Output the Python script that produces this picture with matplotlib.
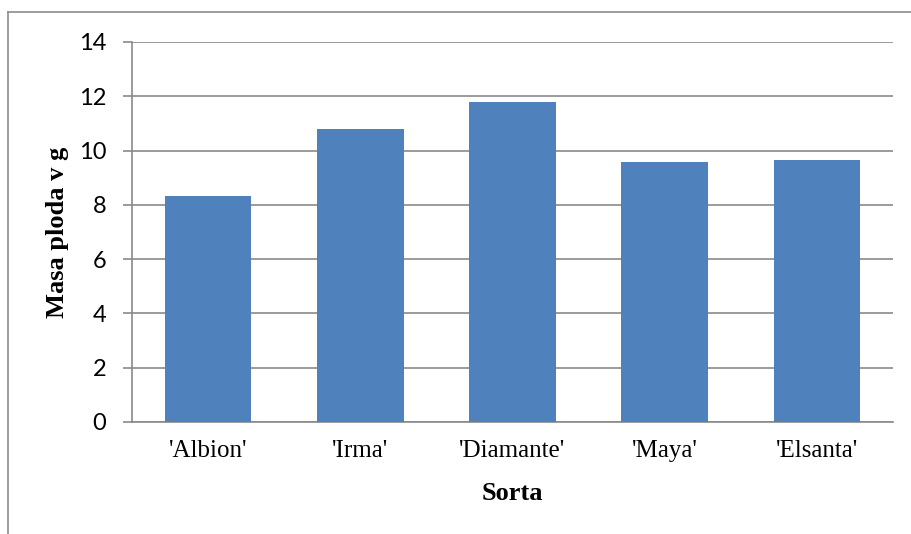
import numpy as np
import matplotlib
matplotlib.use('Agg')
import matplotlib.pyplot as plt
from matplotlib.lines import Line2D

sorte = ["'Albion'", "'Irma'", "'Diamante'", "'Maya'", "'Elsanta'"]
masa = [8.31, 10.8, 11.8, 9.57, 9.65]
y_ticks = [0, 2, 4, 6, 8, 10, 12, 14]

W, H = 912, 534
fig = plt.figure(figsize=(W / 100, H / 100), dpi=100)
fig.patch.set_facecolor('white')

# outer chart frame (top and left edges visible)
frame_col = '#8c8c8c'
fig.add_artist(Line2D([8 / W, 1.0], [1 - 12 / H, 1 - 12 / H], transform=fig.transFigure,
                      color=frame_col, lw=1.2))
fig.add_artist(Line2D([8 / W, 8 / W], [0.0, 1 - 12 / H], transform=fig.transFigure,
                      color=frame_col, lw=1.2))

ax = fig.add_axes([132 / W, 1 - 422 / H, (893 - 132) / W, (422 - 42) / H])
x = np.arange(len(sorte))
ax.bar(x, masa, width=0.57, color='#4F81BD', zorder=3)

ax.set_xlim(-0.5, len(sorte) - 0.5)
ax.set_ylim(0, 14)
ax.set_yticks(y_ticks)
ax.set_yticklabels([str(t) for t in y_ticks], family='Lato', fontsize=17)
ax.set_xticks(x)
ax.set_xticklabels(sorte, family='Liberation Serif', fontsize=18)

grid_col = '#8a8a8a'
ax.grid(axis='y', color=grid_col, lw=1.2, zorder=0)
for s in ['top', 'right']:
    ax.spines[s].set_visible(False)
for s in ['left', 'bottom']:
    ax.spines[s].set_color(grid_col)
    ax.spines[s].set_linewidth(1.2)
ax.tick_params(axis='y', length=6.5, width=1.2, color=grid_col, pad=12)
ax.tick_params(axis='x', length=0, pad=13)

ax.set_xlabel('Sorta', family='Liberation Serif', fontsize=19, fontweight='bold', labelpad=14)
ax.set_ylabel('Masa ploda v g', family='Liberation Serif', fontsize=19, fontweight='bold',
              labelpad=7)

fig.savefig('out.png', dpi=100)
